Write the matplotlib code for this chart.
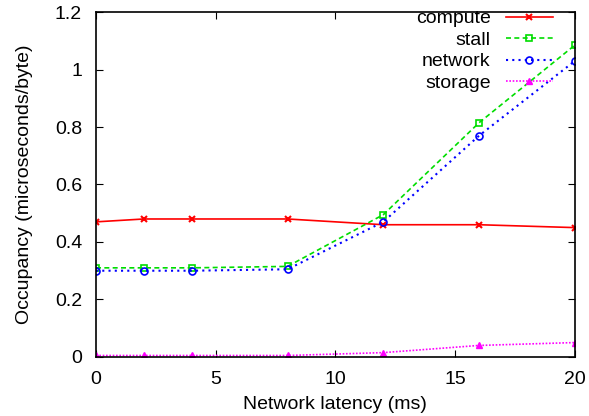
import matplotlib
matplotlib.use('Agg')
import matplotlib.pyplot as plt
import numpy as np

plt.rcParams['font.family'] = ['Liberation Sans', 'DejaVu Sans']

# Data
latency = [0, 2, 4, 8, 12, 16, 20]
compute = [0.47, 0.48, 0.48, 0.48, 0.46, 0.46, 0.45]
stall = [0.31, 0.31, 0.31, 0.315, 0.495, 0.815, 1.085]
network = [0.30, 0.30, 0.30, 0.305, 0.47, 0.77, 1.03]
storage = [0.005, 0.005, 0.005, 0.005, 0.015, 0.04, 0.05]

fig = plt.figure(figsize=(5.89, 4.16), dpi=100)
ax = fig.add_axes([0.163, 0.142, 0.813, 0.829])

ax.plot(latency, compute, color='#ff0000', linestyle='-', marker='x', markersize=5,
        markeredgewidth=1.5, linewidth=1.2, label='compute')
ax.plot(latency, stall, color='#00dd00', linestyle=(0, (3, 2)), marker='s', markersize=5,
        markerfacecolor='none', markeredgewidth=1.2, linewidth=1.2, label='stall')
ax.plot(latency, network, color='#0000ff', linestyle=(0, (1, 2)), marker='o', markersize=5,
        markerfacecolor='none', markeredgewidth=1.2, linewidth=1.5, label='network')
ax.plot(latency, storage, color='#ff00ff', linestyle=(0, (1, 1)), marker='^', markersize=5,
        linewidth=1.2, label='storage')

ax.set_xlim(0, 20)
ax.set_ylim(0, 1.2)
ax.set_xticks([0, 5, 10, 15, 20])
ax.set_yticks([0, 0.2, 0.4, 0.6, 0.8, 1.0, 1.2])
ax.set_yticklabels(['0', '0.2', '0.4', '0.6', '0.8', '1', '1.2'])
ax.tick_params(direction='in', top=True, right=True, length=5, labelsize=14)
ax.tick_params(axis='x', pad=10)
ax.tick_params(axis='y', pad=10)
ax.set_xlabel('Network latency (ms)', fontsize=14, labelpad=6)
ax.set_ylabel('Occupancy (microseconds/byte)', fontsize=14, labelpad=16)
for s in ax.spines.values():
    s.set_linewidth(1.2)

ax.legend(loc='upper right', bbox_to_anchor=(0.962, 1.018), markerfirst=False,
          frameon=False, fontsize=14, handlelength=2.4, labelspacing=0.2,
          borderaxespad=0.0, borderpad=0.2, handletextpad=0.8)

fig.savefig('out.png', dpi=100)
